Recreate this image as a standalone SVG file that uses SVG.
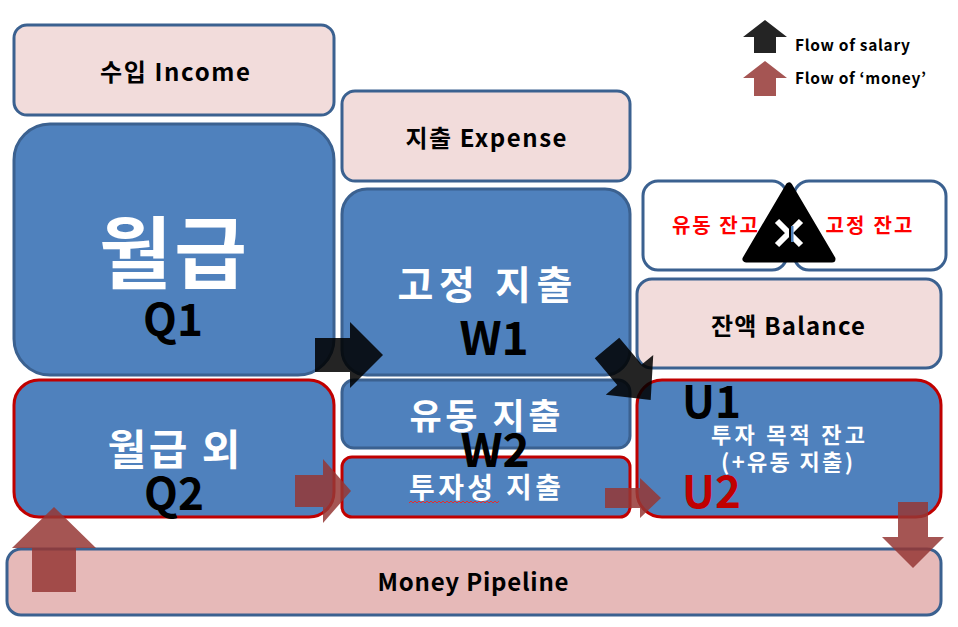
<svg xmlns="http://www.w3.org/2000/svg" width="958" height="627" viewBox="0 0 958 627">
<defs>
<style>
text{font-family:"Noto Sans CJK KR","Noto Sans",sans-serif;font-weight:bold;text-anchor:middle}
.pink{fill:#f2dcdb;stroke:#3b6190;stroke-width:3}
.blue{fill:#4f81bd;stroke:#3b6190;stroke-width:3}
.bluer{fill:#4f81bd;stroke:#c00000;stroke-width:3}
.white{fill:#fff;stroke:#3b6190;stroke-width:3}
.pipe{fill:#e6b9b8;stroke:#3b6190;stroke-width:3}
.blk{fill:#000;opacity:0.86}
.red{fill:#953735;opacity:0.85}
.wt{fill:#fff}
.bk{fill:#000}
</style>
</defs>
<rect width="958" height="627" fill="#fff"/>

<g id="income"><rect class="pink" x="14" y="25" width="320" height="90" rx="13"/><text x="175" y="81" font-size="24" textLength="150" lengthAdjust="spacing">수입 Income</text></g>
<g id="salary"><rect class="blue" x="14" y="124" width="320" height="251" rx="36"/><text class="wt" x="173" y="283" font-size="79" textLength="148" lengthAdjust="spacing">월급</text><text class="bk" x="173" y="336" font-size="44">Q1</text></g>
<g id="non-salary"><rect class="bluer" x="14" y="380" width="320" height="137" rx="25"/><text class="wt" x="174" y="465" font-size="42" textLength="133" lengthAdjust="spacing">월급 외</text><text class="bk" x="174" y="510" font-size="44">Q2</text></g>

<g id="expense"><rect class="pink" x="342" y="91" width="288" height="90" rx="13"/><text x="486" y="147" font-size="24" textLength="161" lengthAdjust="spacing">지출 Expense</text></g>
<g id="fixed-expense"><rect class="blue" x="342" y="189" width="288" height="186" rx="25"/><text class="wt" x="485" y="299" font-size="39" textLength="175" lengthAdjust="spacing">고정 지출</text><text class="bk" x="494" y="355" font-size="46">W1</text></g>
<g id="variable-expense"><rect class="blue" x="342" y="380" width="288" height="68" rx="12"/><text class="wt" x="485" y="429" font-size="35" textLength="151" lengthAdjust="spacing">유동 지출</text></g>
<g id="investment-expense"><rect class="bluer" x="342" y="457" width="288" height="60" rx="10"/><text class="wt" x="485" y="498" font-size="28" textLength="152" lengthAdjust="spacing">투자성 지출</text><path d="M409,503 l2,-2 l2,2 l2,-2 l2,2 l2,-2 l2,2 l2,-2 l2,2 l2,-2 l2,2 l2,-2 l2,2 l2,-2 l2,2 l2,-2 l2,2 l2,-2 l2,2 l2,-2 l2,2 l2,-2 l2,2 l2,-2 l2,2 l2,-2 l2,2 l2,-2 l2,2 l2,-2 l2,2 l2,-2 l2,2 l2,-2 l2,2 l2,-2 l2,2 l2,-2 l2,2 l2,-2 l2,2 l2,-2 l2,2 l2,-2 l2,2 l2,-2" fill="none" stroke="#e03030" stroke-width="1"/></g>
<g id="w2-label"><text class="bk" x="495" y="467" font-size="46">W2</text></g>

<g id="variable-balance"><rect class="white" x="643" y="181" width="144" height="89" rx="15"/><text x="715" y="233" font-size="20" fill="#ff0000" textLength="86" lengthAdjust="spacing">유동 잔고</text></g>
<g id="fixed-balance"><rect class="white" x="794" y="181" width="152" height="89" rx="15"/><text x="869" y="233" font-size="20" fill="#ff0000" textLength="87" lengthAdjust="spacing">고정 잔고</text></g>
<g id="swap-icon">
<polygon points="789,186 746,259 832,259" fill="#000" stroke="#000" stroke-width="7" stroke-linejoin="round"/>
<path d="M777,221 L801,245 M801,221 L777,245" stroke="#fff" stroke-width="6"/>
<rect x="789" y="226" width="2" height="16" fill="#000"/>
<rect x="791" y="226" width="2.5" height="16" fill="#4f81bd"/>
</g>
<g id="balance"><rect class="pink" x="637" y="279" width="304" height="89" rx="15"/><text x="788" y="335" font-size="24" textLength="154" lengthAdjust="spacing">잔액 Balance</text></g>
<g id="investment-balance"><rect class="bluer" x="637" y="380" width="304" height="137" rx="25"/>
<text class="bk" x="682" y="418" font-size="44" style="text-anchor:start">U1</text>
<text class="wt" x="788" y="443" font-size="22" textLength="154" lengthAdjust="spacing">투자 목적 잔고</text>
<text class="wt" x="787" y="470" font-size="22" textLength="132" lengthAdjust="spacing">(+유동 지출)</text>
<text x="682" y="508" font-size="44" fill="#c00000" style="text-anchor:start">U2</text></g>

<g id="pipeline"><rect class="pipe" x="7" y="549" width="934" height="66" rx="14"/><text x="473" y="591" font-size="24" textLength="191" lengthAdjust="spacing">Money Pipeline</text></g>

<g id="legend">
<path class="blk" d="M743,37 L765,20 L787,37 L776,37 L776,53 L754,53 L754,37 Z"/>
<text x="795" y="51" font-size="15.5" style="text-anchor:start" textLength="115" lengthAdjust="spacing">Flow of salary</text>
<path class="red" d="M743,78 L765,61 L787,78 L776,78 L776,96 L754,96 L754,78 Z"/>
<text x="795" y="84" font-size="15.5" style="text-anchor:start" textLength="131" lengthAdjust="spacing">Flow of ‘money’</text>
</g>

<g id="connectors">
<path class="blk" transform="translate(315,355)" d="M0,-17 H35 V-33 L68,0 L35,33 V17 H0 Z"/>
<path class="blk" transform="translate(607,348) rotate(50)" d="M0,-16 H35 V-31 L68,0 L35,31 V16 H0 Z"/>
<path class="red" transform="translate(295,491)" d="M0,-16 H28 V-32 L56,0 L28,32 V16 H0 Z"/>
<path class="red" transform="translate(605,498)" d="M0,-10 H35 V-20 L56,0 L35,20 V10 H0 Z"/>
<path class="red" d="M898,502 H928 V537 H944 L913,568 L882,537 H898 Z"/>
<path class="red" d="M32,592 V548 H12 L54,507 L96,548 H76 V592 Z"/>
</g>
</svg>
